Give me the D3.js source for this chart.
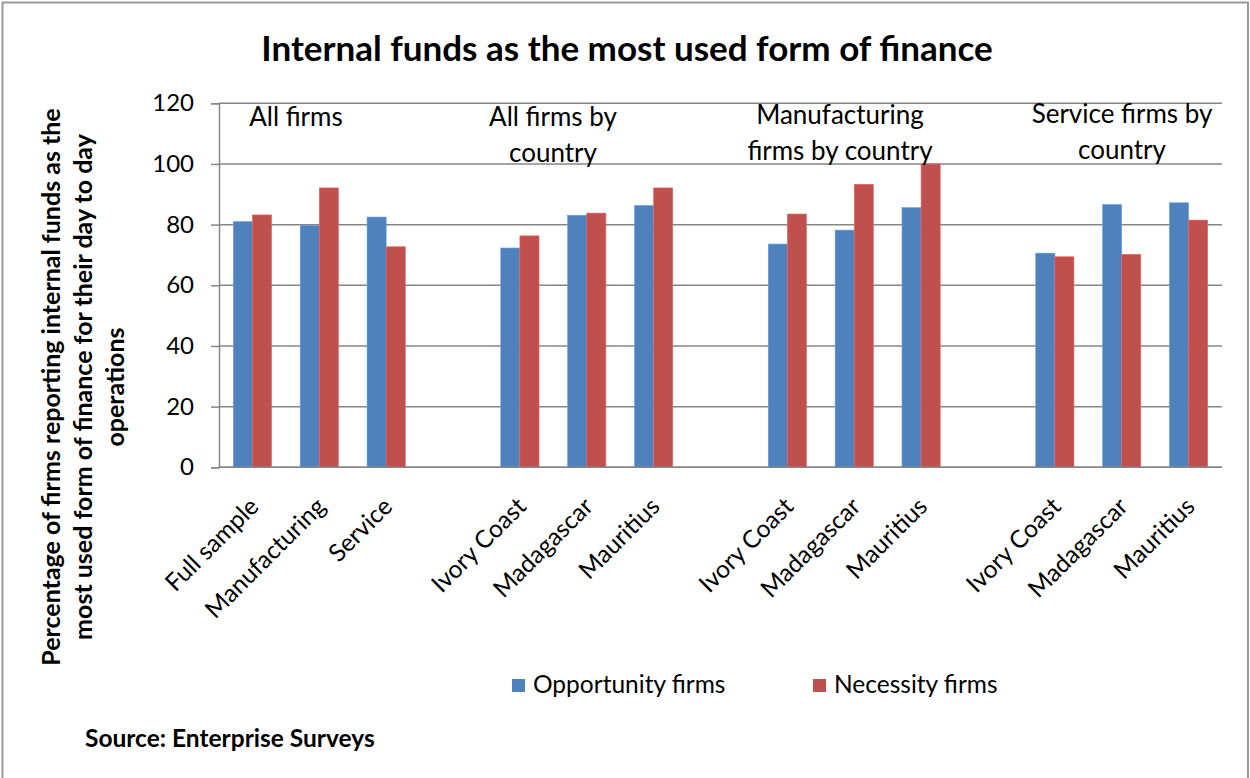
<!DOCTYPE html>
<html>
<head>
<meta charset="utf-8">
<script src="https://cdn.jsdelivr.net/npm/d3@7"></script>
<style>
  html, body { margin: 0; padding: 0; background: #fff; }
  svg { display: block; font-family: Lato, "Liberation Sans", sans-serif; }
</style>
</head>
<body>
<svg id="chart" width="1250" height="778"></svg>
<script>
// Category labels along the x axis; empty strings are spacer slots between groups
const categories = [
  "Full sample", "Manufacturing", "Service", "",
  "Ivory Coast", "Madagascar", "Mauritius", "",
  "Ivory Coast", "Madagascar", "Mauritius", "",
  "Ivory Coast", "Madagascar", "Mauritius"
];
const seriesNames = ["Opportunity firms", "Necessity firms"];
// Percent of firms, one entry per category slot (null = spacer)
const opportunity = [81.0, 79.7, 82.5, null, 72.3, 83.1, 86.3, null, 73.6, 78.2, 85.6, null, 70.6, 86.6, 87.2];
const necessity   = [83.2, 92.1, 72.7, null, 76.3, 83.8, 92.1, null, 83.5, 93.3, 100.0, null, 69.4, 70.2, 81.5];
const yTicks = [0, 20, 40, 60, 80, 100, 120];
const groupTitles = [
  ["All firms"],
  ["All firms by", "country"],
  ["Manufacturing", "firms by country"],
  ["Service firms by", "country"]
];
const chartTitle = "Internal funds as the most used form of finance";
const yTitle = [
  "Percentage of firms reporting internal funds as the",
  "most used form of finance for their day to day",
  "operations"
];
const sourceNote = "Source: Enterprise Surveys";

const colors = ["#4F81BD", "#C0504D"];

const svg = d3.select("#chart");

// outer frame
svg.append("rect")
  .attr("x", 2.5).attr("y", 2.5).attr("width", 1245.5).attr("height", 790)
  .attr("fill", "none").attr("stroke", "#9a9a9a").attr("stroke-width", 2);

const plot = { left: 219, right: 1222, top: 103.3, bottom: 467.3 };

const y = d3.scaleLinear().domain([0, 120]).range([plot.bottom, plot.top]);
const x = d3.scaleBand().domain(d3.range(categories.length)).range([plot.left, plot.right]).padding(0);
const xs = d3.scaleBand().domain(seriesNames).range([0, x.bandwidth()]).paddingInner(0).paddingOuter(0.75);

// gridlines + y axis
const yAxis = d3.axisLeft(y).tickValues(yTicks).tickSize(8).tickPadding(17).tickFormat(d3.format("d"));
const gy = svg.append("g").attr("transform", `translate(${plot.left},0)`).call(yAxis);
gy.select(".domain").attr("stroke", "#868686").attr("stroke-width", 1.5);
gy.selectAll(".tick line").attr("stroke", "#868686").attr("stroke-width", 1.5);
gy.selectAll(".tick text").attr("font-size", 24).attr("fill", "#000").attr("font-family", "Lato, sans-serif");

svg.append("g").selectAll("line").data(yTicks).join("line")
  .attr("x1", plot.left).attr("x2", plot.right)
  .attr("y1", d => y(d)).attr("y2", d => y(d))
  .attr("stroke", "#868686").attr("stroke-width", 1.5);

// bars
const rows = categories.map((c, i) => ({ i, values: [opportunity[i], necessity[i]] }));
const gBars = svg.append("g");
rows.forEach(r => {
  r.values.forEach((v, k) => {
    if (v == null) return;
    gBars.append("rect")
      .attr("x", x(r.i) + xs(seriesNames[k]))
      .attr("y", y(v))
      .attr("width", xs.bandwidth())
      .attr("height", y(0) - y(v))
      .attr("fill", colors[k])
      .attr("stroke", d3.color(colors[k]).brighter(0.6))
      .attr("stroke-width", 0.6);
  });
});

// x axis baseline
svg.append("line")
  .attr("x1", plot.left).attr("x2", plot.right)
  .attr("y1", y(0)).attr("y2", y(0))
  .attr("stroke", "#868686").attr("stroke-width", 1.5);

// rotated category labels
svg.append("g").selectAll("text").data(rows.filter(r => categories[r.i] !== "")).join("text")
  .attr("transform", r => `translate(${x(r.i) + x.bandwidth() / 2 + 1},${plot.bottom + 34}) rotate(-45)`)
  .attr("text-anchor", "end")
  .attr("dominant-baseline", "central")
  .attr("font-size", 24.5)
  .text(r => categories[r.i]);

// group titles inside the plot
const groupPos = [
  { x: 296, y: 126 },
  { x: 553, y: 126 },
  { x: 840, y: 124 },
  { x: 1122, y: 123 }
];
groupTitles.forEach((lines, gi) => {
  const t = svg.append("text")
    .attr("x", groupPos[gi].x).attr("y", groupPos[gi].y)
    .attr("text-anchor", "middle").attr("font-size", 26);
  lines.forEach((ln, li) => {
    t.append("tspan").attr("x", groupPos[gi].x).attr("dy", li === 0 ? 0 : 36).text(ln);
  });
});

// chart title
svg.append("text")
  .attr("x", 627).attr("y", 61)
  .attr("text-anchor", "middle")
  .attr("font-size", 35).attr("font-weight", "bold")
  .text(chartTitle);

// y axis title
const yt = svg.append("text")
  .attr("transform", "translate(60,387) rotate(-90)")
  .attr("text-anchor", "middle")
  .attr("font-size", 25).attr("font-weight", "bold");
yTitle.forEach((ln, li) => {
  yt.append("tspan").attr("x", 0).attr("dy", li === 0 ? 0 : 32).text(ln);
});

// legend
const legend = svg.append("g");
const legendX = [512, 813];
seriesNames.forEach((s, k) => {
  legend.append("rect")
    .attr("x", legendX[k]).attr("y", 679).attr("width", 13).attr("height", 13)
    .attr("fill", colors[k]);
  legend.append("text")
    .attr("x", legendX[k] + 21).attr("y", 693)
    .attr("font-size", 24.5)
    .text(s);
});

// source note
svg.append("text")
  .attr("x", 85).attr("y", 747)
  .attr("font-size", 24.5).attr("font-weight", "bold")
  .text(sourceNote);
</script>
</body>
</html>
